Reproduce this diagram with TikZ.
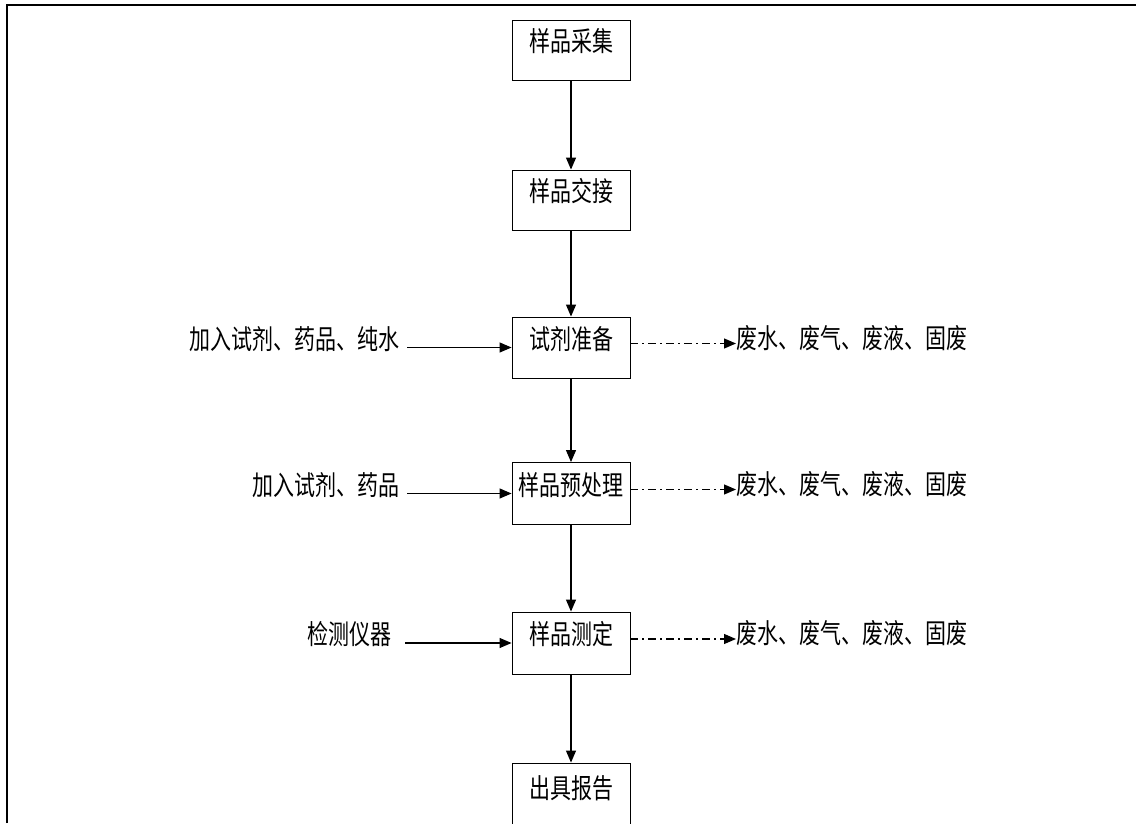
\documentclass[tikz,border=0pt]{standalone}
\usepackage{fontspec}
\newfontfamily\cjk{Noto Sans CJK SC}
\usetikzlibrary{arrows.meta}
\newcommand{\tall}[1]{\scalebox{1}[1.3]{#1}}
\begin{document}
\begin{tikzpicture}[x=1pt,y=1pt,
  txt/.style={font=\cjk\fontsize{21}{25}\selectfont, text height=12pt, text depth=8pt, inner sep=0pt},
  outtxt/.style={txt, text height=15pt, text depth=5pt},
  stepbox/.style={txt, draw, line width=0.9pt, minimum width=118pt, minimum height=60pt},
  flow/.style={line width=1.2pt, -{Triangle[length=12pt,width=10pt]}},
  waste/.style={line width=1.2pt, dash pattern=on 8pt off 4pt on 2pt off 4pt, -{Triangle[length=12pt,width=10pt]}}
]
\clip (0,0) rectangle (1136,823);
\fill[white] (0,0) rectangle (1136,823);
% frame (cut off on the right and bottom)
\draw[line width=2pt] (6.5,0) -- (6.5,818) -- (1136,818);

% main chain
\node[stepbox] (s1) at (571,773) {\tall{样品采集}};
\node[stepbox] (s2) at (571,623) {\tall{样品交接}};
\node[stepbox, minimum height=61pt] (s3) at (571,475.5) {\tall{试剂准备}};
\node[stepbox, minimum height=62pt] (s4) at (571,329.5) {\tall{样品预处理}};
\node[stepbox, minimum height=62pt] (s5) at (571,180) {\tall{样品测定}};
\node[stepbox, minimum height=66pt] (s6) at (571,27) {\tall{出具报告}};

\draw[flow] (s1) -- (s2);
\draw[flow] (s2) -- (s3);
\draw[flow] (s3) -- (s4);
\draw[flow] (s4) -- (s5);
\draw[flow] (s5) -- (s6);

% inputs
\node[txt, anchor=east] (i3) at (400,475.5) {\tall{加入试剂、药品、纯水}};
\node[txt, anchor=east] (i4) at (400,329.5) {\tall{加入试剂、药品}};
\node[txt, anchor=east] (i5) at (392,180) {\tall{检测仪器}};
\coordinate (i3s) at (407,475.5);
\coordinate (i4s) at (407,329.5);
\coordinate (i5s) at (405,180);
\draw[flow] (i3s) -- (s3.west);
\draw[flow] (i4s) -- (s4.west);
\draw[flow] (i5s) -- (s5.west);

% outputs
\node[outtxt, anchor=west] (o3) at (736,479.5) {\tall{废水、废气、废液、固废}};
\node[outtxt, anchor=west] (o4) at (736,333.5) {\tall{废水、废气、废液、固废}};
\node[outtxt, anchor=west] (o5) at (736,184) {\tall{废水、废气、废液、固废}};
\draw[waste] (s3.east |- o3.west) -- (o3.west);
\draw[waste] (s4.east |- o4.west) -- (o4.west);
\draw[waste] (s5.east |- o5.west) -- (o5.west);
\end{tikzpicture}
\end{document}
